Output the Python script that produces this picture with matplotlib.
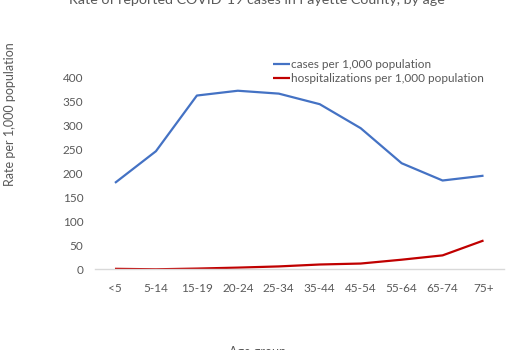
import matplotlib
matplotlib.use("Agg")
import matplotlib.pyplot as plt

age_groups = ["<5", "5-14", "15-19", "20-24", "25-34", "35-44", "45-54", "55-64", "65-74", "75+"]
cases = [180, 246, 362, 372, 366, 344, 294, 221, 185, 195]
hosp = [1, 0, 1.5, 3.5, 6, 10, 12, 20, 29, 60]
yticks = [0, 50, 100, 150, 200, 250, 300, 350, 400]

plt.rcParams['font.family'] = ['Lato', 'DejaVu Sans']
gray = '#595959'

W, H = 509, 350
fig = plt.figure(figsize=(W / 100, H / 100), dpi=100)
ax = fig.add_axes([94.5 / W, (H - 269.3) / H, 409.5 / W, 192 / H])

x = list(range(len(age_groups)))
ax.plot(x, cases, color='#4472C4', lw=1.6, label='cases per 1,000 population', solid_capstyle='butt')
ax.plot(x, hosp, color='#C00000', lw=1.6, label='hospitalizations per 1,000 population', solid_capstyle='butt')

ax.set_xlim(-0.5, len(age_groups) - 0.5)
ax.set_ylim(0, 400)
ax.set_xticks(x)
ax.set_xticklabels(age_groups)
ax.set_yticks(yticks)
ax.tick_params(axis='both', length=0, labelsize=8.5, colors=gray)
ax.tick_params(axis='y', pad=8)
ax.tick_params(axis='x', pad=10)
for s in ['top', 'right', 'left']:
    ax.spines[s].set_visible(False)
ax.spines['bottom'].set_color('#D9D9D9')
ax.spines['bottom'].set_linewidth(1.0)

fig.text(256.7 / W, 1 - 4 / H, "Rate of reported COVID-19 cases in Fayette County, by age",
         ha='center', va='baseline', fontsize=10.3, color=gray)
fig.text(10 / W, 1 - 114 / H, "Rate per 1,000 population", rotation=90,
         ha='center', va='center', fontsize=9, color=gray)
fig.text(257.5 / W, 1 - 345.5 / H, "Age group", ha='center', va='top', fontsize=9, color=gray)

leg = ax.legend(loc='upper left', bbox_to_anchor=(273 / W, 1 - 59 / H), bbox_transform=fig.transFigure,
                frameon=False, fontsize=8.5, handlelength=1.4, handletextpad=0.1,
                labelspacing=0.25, borderpad=0, borderaxespad=0)
for t in leg.get_texts():
    t.set_color(gray)

fig.savefig('out.png', dpi=100)
